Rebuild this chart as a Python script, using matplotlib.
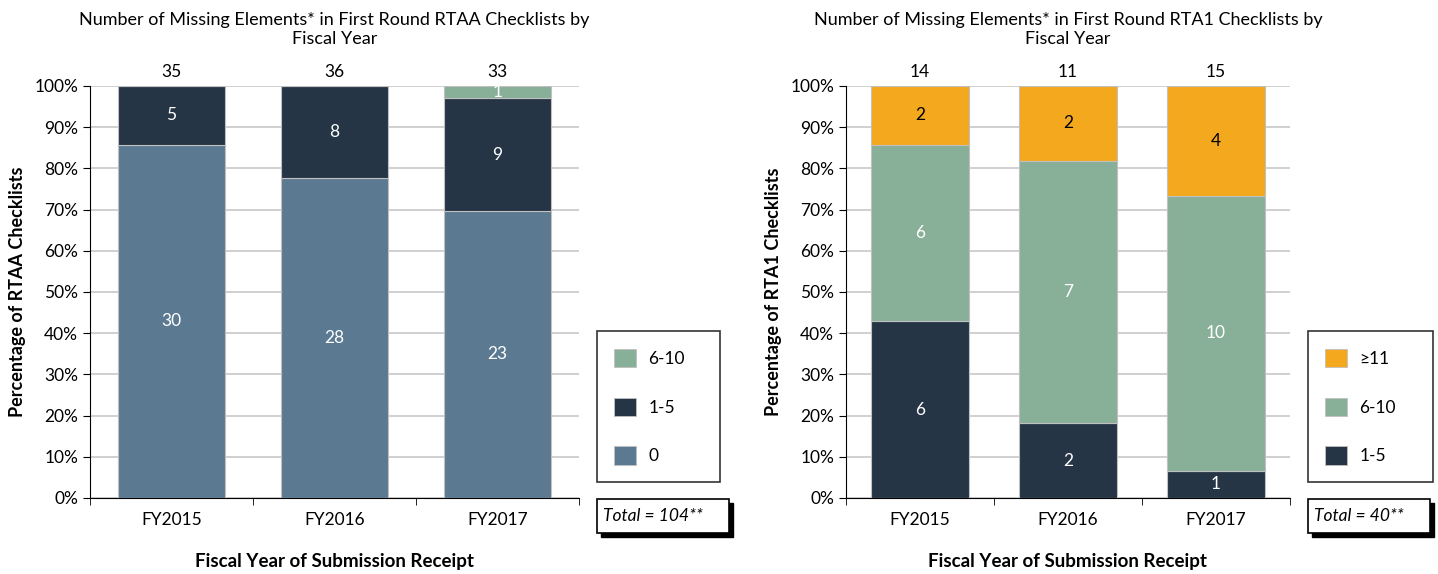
import matplotlib.pyplot as plt
import numpy as np
from matplotlib.patches import Patch, Rectangle

plt.rcParams['font.family'] = ['Lato', 'DejaVu Sans']

years = ['FY2015', 'FY2016', 'FY2017']

# RTAA checklists
rtaa_0 = [30, 28, 23]
rtaa_1_5 = [5, 8, 9]
rtaa_6_10 = [0, 0, 1]

# RTA1 checklists
rta1_1_5 = [6, 2, 1]
rta1_6_10 = [6, 7, 10]
rta1_11 = [2, 2, 4]

c_zero = '#5b7a91'
c_low = '#253545'
c_mid = '#88af98'
c_high = '#f4a81d'

W, H = 1438, 574


def draw_panel(ax, series, colors, text_colors, title, ylabel):
	counts = np.array(series, dtype=float)
	totals = counts.sum(axis=0)
	x = np.arange(len(years))
	bottom = np.zeros(len(years))
	for vals, col, tc in zip(counts, colors, text_colors):
		pct = vals / totals * 100
		ax.bar(x, pct, 0.66, bottom=bottom, color=col, edgecolor='#c0c0c0',
			   linewidth=0.8, zorder=3)
		for i in range(len(x)):
			if vals[i] > 0:
				ax.text(x[i], bottom[i] + pct[i] / 2, f"{int(vals[i])}", ha='center',
						va='center', color=tc, fontsize=12.5, zorder=4)
		bottom += pct
	for i in range(len(x)):
		ax.text(x[i], 101.5, f"{int(totals[i])}", ha='center', va='bottom', fontsize=12.5)

	ax.set_xlim(-0.5, len(years) - 0.5)
	ax.set_ylim(0, 100)
	ax.set_yticks(np.arange(0, 101, 10))
	ax.set_yticklabels([f"{v}%" for v in range(0, 101, 10)], fontsize=12.5)
	ax.set_xticks(x)
	ax.set_xticklabels(years, fontsize=12.5)
	ax.set_xticks(np.arange(-0.5, len(years), 1), minor=True)
	ax.tick_params(axis='x', which='major', length=0, pad=10)
	ax.tick_params(axis='x', which='minor', length=5, direction='out', color='black')
	ax.tick_params(axis='y', length=5, direction='out', color='black')
	ax.yaxis.grid(True, color='#c8c8c8', linewidth=1.2, zorder=0)
	ax.set_axisbelow(True)
	for s in ['top', 'right']:
		ax.spines[s].set_visible(False)
	ax.spines['left'].set_color('black')
	ax.spines['bottom'].set_color('black')
	ax.set_title(title, fontsize=13, pad=30, linespacing=1.25)
	ax.set_ylabel(ylabel, fontsize=13, fontweight='bold', labelpad=6)
	ax.set_xlabel('Fiscal Year of Submission Receipt', fontsize=13.5, fontweight='bold', labelpad=18)


fig = plt.figure(figsize=(W / 100, H / 100), dpi=100)
ax1 = fig.add_axes([90 / W, 1 - 498 / H, 489 / W, 412 / H])
ax2 = fig.add_axes([846 / W, 1 - 498 / H, 444 / W, 412 / H])

draw_panel(ax1, [rtaa_0, rtaa_1_5, rtaa_6_10], [c_zero, c_low, c_mid],
		   ['white', 'white', 'white'],
		   'Number of Missing Elements* in First Round RTAA Checklists by\nFiscal Year',
		   'Percentage of RTAA Checklists')
draw_panel(ax2, [rta1_1_5, rta1_6_10, rta1_11], [c_low, c_mid, c_high],
		   ['white', 'white', 'black'],
		   'Number of Missing Elements* in First Round RTA1 Checklists by\nFiscal Year',
		   'Percentage of RTA1 Checklists')


def add_legend(labels, colors, px, pw, total_text, tw):
	handles = [Patch(facecolor=c, edgecolor='#c0c0c0', linewidth=0.6) for c in colors]
	leg = fig.legend(handles, labels, loc='lower left',
					 bbox_to_anchor=(px / W, 1 - 482 / H, pw / W, 0.2), mode='expand',
					 fontsize=12.5, frameon=True, fancybox=False, edgecolor='black',
					 handlelength=1.25, handleheight=1.25, labelspacing=1.75,
					 borderpad=1.0, handletextpad=0.7, borderaxespad=0)
	leg.get_frame().set_linewidth(1.2)
	# total box with drop shadow
	y0 = 1 - 533 / H
	bh = 34 / H
	fig.patches.append(Rectangle((px / W + 4 / W, y0 - 4 / H), tw / W, bh,
								 transform=fig.transFigure, facecolor='black',
								 edgecolor='black', zorder=1))
	fig.patches.append(Rectangle((px / W, y0), tw / W, bh, transform=fig.transFigure,
								 facecolor='white', edgecolor='black', linewidth=1.2,
								 zorder=2))
	fig.text(px / W + 6 / W, y0 + bh / 2, total_text, fontsize=12.5, style='italic',
			 va='center', ha='left', zorder=3)


add_legend(['6-10', '1-5', '0'], [c_mid, c_low, c_zero], 597, 123, 'Total = 104**', 132)
add_legend(['≥11', '6-10', '1-5'], [c_high, c_mid, c_low], 1308, 125, 'Total = 40**', 122)

fig.savefig('out.png', dpi=100)
